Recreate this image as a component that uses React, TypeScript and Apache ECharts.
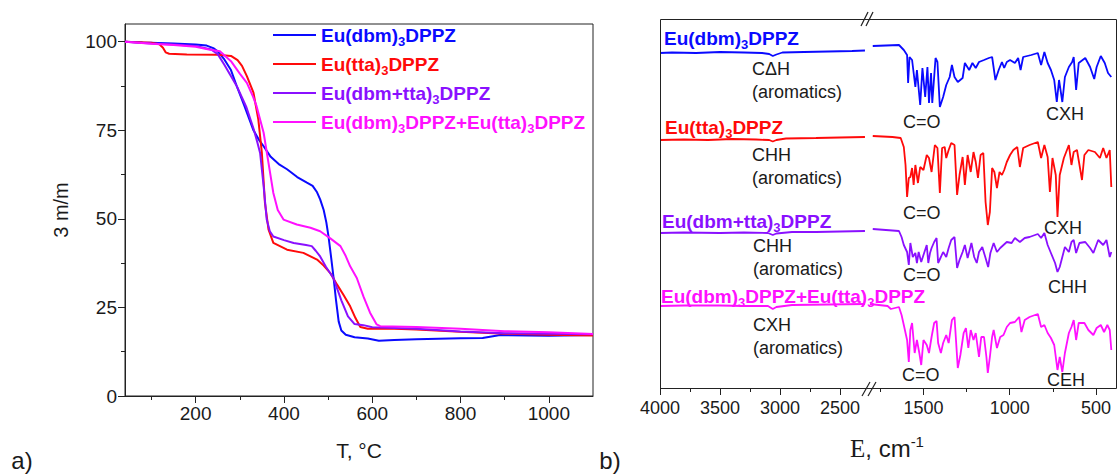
import React, { useEffect, useRef } from 'react';
import * as echarts from 'echarts';

const FONT = '"Liberation Sans", Arial, Helvetica, sans-serif';
const SERIF = '"Liberation Serif", "Times New Roman", serif';

const NAMES = ['Eu(dbm)3DPPZ', 'Eu(tta)3DPPZ', 'Eu(dbm+tta)3DPPZ', 'Eu(dbm)3DPPZ+Eu(tta)3DPPZ'];
const COLORS = ['#0a0aff', '#ff0a0a', '#8a10ff', '#ff10ff'];

// ---------- TGA (temperature °C, mass %) ----------
const tgaDbm = [[40,100],[80,99.8],[150,99.5],[200,99.2],[225,98.9],[240,98.2],[250,97.3],[265,95],[280,92],[293,87.5],[310,82],[331,75],[345,72],[354,70.5],[370,67.5],[390,65.3],[407,64],[430,61.8],[452,60.2],[465,59.3],[475,57.5],[482,55.5],[490,52.5],[496,49],[501,45],[507,39],[512,33.8],[518,27],[524,21],[530,18.5],[540,17.3],[560,16.6],[590,16.2],[615,15.6],[650,15.8],[700,16],[800,16.3],[850,16.4],[870,16.8],[890,17.2],[950,17.1],[1000,17],[1100,17.2]];
const tgaTta = [[40,100],[100,99.7],[118,99.3],[126,98.3],[132,97],[140,96.6],[180,96.4],[250,96.3],[280,96],[295,94.8],[305,93.2],[316,90.3],[331,85.6],[342,78],[350,68.6],[357,54.5],[365,47],[376,43.2],[407,41.3],[444,40.4],[475,38.5],[490,36.8],[505,34.7],[520,31.5],[535,28.5],[550,25.3],[562,22],[573,19.5],[590,19],[650,19],[700,18.8],[800,18.1],[900,17.6],[1000,17.3],[1100,17.1]];
const tgaMix = [[40,100],[100,99.5],[150,99.2],[200,98.8],[235,97.8],[250,96.5],[265,93.5],[293,87.5],[315,81.5],[331,75.5],[340,71.5],[346,68.6],[354,59.2],[361,49.8],[368,46.5],[376,45],[400,44],[422,43.2],[450,42.6],[463,42.3],[472,41],[482,39.4],[495,36.5],[512,33.3],[530,27],[545,22.5],[560,20.3],[580,20],[600,19.4],[700,19],[800,18.2],[900,17.7],[1000,17.6],[1100,17.4]];
const tgaBlend = [[40,100],[100,99.4],[150,99.1],[200,98.6],[230,97.8],[255,97.3],[280,94.5],[300,91],[316,88.4],[330,84.5],[338,81.8],[354,74.3],[365,65.8],[376,57.3],[386,52.5],[399,49.8],[429,48.4],[460,47.5],[482,46.5],[505,44.5],[528,42.3],[540,39.5],[550,36.6],[565,33.3],[580,28.1],[595,23.5],[610,20.2],[618,19.7],[700,19.5],[800,19],[900,18.3],[1000,18],[1100,17.5]];

const tgaTempTicks = [200, 400, 600, 800, 1000];
const tgaTempMinor = [100, 300, 500, 700, 900];
const tgaMassTicks = [0, 25, 50, 75, 100];
const tgaMassMinor = [12.5, 37.5, 62.5, 87.5];

// ---------- IR (wavenumber cm-1, offset transmittance a.u.) ----------
const irDbmHigh = [[4000,335],[3900,335.5],[3700,335],[3500,336],[3300,335.5],[3150,335],[3090,334],[3060,332],[3030,333.5],[2980,335.5],[2800,336],[2600,336.5],[2400,337],[2292,337.5]];
const irTtaHigh = [[4000,248],[3800,248.5],[3600,248],[3400,249],[3200,248.5],[3090,248],[3060,246.5],[3030,248],[2950,249.5],[2700,250],[2500,250.5],[2292,251]];
const irMixHigh = [[4000,155],[3800,155.5],[3500,155],[3300,155.5],[3100,155],[3060,153],[3030,154.5],[2900,156],[2700,156],[2500,156.5],[2292,157]];
const irBlendHigh = [[4000,82],[3800,82.5],[3500,82.5],[3300,82],[3100,82],[3060,79],[3030,81],[2900,83],[2600,83.5],[2292,84]];

const irDbmLow = [[1794,342],[1642,343],[1614,338],[1595,333],[1589,305],[1581,331],[1566,328],[1547,301],[1538,318],[1519,283],[1506,320],[1490,291],[1477,321],[1468,285],[1456,315],[1449,285],[1430,330],[1419,326],[1405,281],[1386,291],[1368,303],[1348,311],[1335,323],[1320,311],[1301,306],[1273,310],[1260,325],[1235,318],[1216,325],[1197,320],[1178,326],[1149,328],[1121,330],[1102,331],[1083,308],[1064,318],[1045,326],[1032,320],[1017,326],[998,328],[970,325],[951,330],[937,318],[922,331],[875,333],[837,335],[818,323],[799,336],[780,325],[761,318],[742,308],[727,286],[714,308],[695,286],[680,311],[657,321],[638,326],[629,331],[615,298],[600,325],[562,330],[534,321],[510,309],[496,321],[472,332],[449,325],[430,315],[411,311]];
const irTtaLow = [[1794,252],[1680,251],[1632,250],[1614,241],[1604,223],[1595,191],[1585,210],[1576,211],[1566,220],[1557,203],[1547,223],[1532,205],[1519,221],[1500,218],[1481,233],[1468,230],[1453,216],[1434,243],[1419,240],[1405,195],[1392,240],[1377,241],[1368,230],[1354,238],[1339,245],[1320,243],[1305,193],[1291,213],[1273,231],[1260,203],[1244,233],[1226,216],[1210,236],[1197,226],[1184,210],[1169,233],[1153,235],[1140,186],[1127,163],[1115,176],[1102,220],[1089,216],[1074,200],[1059,216],[1045,213],[1032,218],[1017,226],[998,233],[979,238],[956,241],[941,221],[922,240],[885,243],[837,246],[818,230],[799,243],[780,231],[767,196],[752,230],[733,213],[723,171],[710,213],[686,230],[657,243],[642,223],[629,236],[610,238],[581,208],[567,233],[544,238],[506,236],[477,230],[458,240],[439,230],[420,238],[411,201]];
const irMixLow = [[1794,159],[1642,157],[1627,151],[1614,143],[1595,136],[1585,123],[1576,145],[1562,131],[1547,135],[1538,125],[1528,136],[1513,126],[1500,133],[1481,143],[1472,125],[1462,135],[1453,140],[1438,146],[1424,150],[1415,125],[1399,131],[1386,136],[1368,131],[1354,140],[1339,148],[1320,151],[1305,120],[1291,128],[1273,136],[1260,143],[1244,130],[1222,145],[1206,131],[1191,125],[1178,136],[1159,141],[1140,130],[1125,121],[1112,135],[1093,145],[1074,136],[1055,140],[1036,143],[1017,146],[989,145],[970,150],[941,146],[913,150],[885,151],[837,154],[818,150],[799,155],[780,143],[761,135],[737,125],[723,116],[710,121],[695,131],[680,141],[657,136],[642,146],[629,148],[615,135],[596,145],[562,146],[534,140],[515,135],[487,148],[458,143],[439,148],[420,131],[411,136]];
const irBlendLow = [[1810,84],[1708,82],[1689,79],[1642,81],[1627,73],[1614,63],[1595,48],[1585,26],[1576,58],[1566,65],[1551,35],[1538,48],[1524,35],[1513,23],[1500,48],[1481,43],[1468,35],[1453,51],[1438,65],[1424,67],[1415,45],[1399,35],[1386,45],[1368,53],[1354,45],[1335,68],[1320,71],[1301,20],[1286,33],[1267,55],[1254,60],[1240,40],[1226,58],[1210,48],[1197,55],[1178,31],[1165,51],[1149,51],[1135,31],[1127,15],[1115,31],[1102,51],[1093,58],[1074,40],[1055,51],[1036,53],[1017,61],[998,65],[970,66],[945,71],[932,56],[913,68],[885,71],[837,74],[818,61],[799,63],[780,55],[761,50],[742,43],[723,18],[710,31],[695,16],[680,35],[657,55],[642,61],[629,68],[615,48],[600,65],[567,65],[544,58],[515,53],[496,60],[472,63],[453,56],[434,63],[420,58],[411,38]];

const irHighTicks = [4000, 3500, 3000, 2500];
const irHighMinor = [3750, 3250, 2750];
const irLowTicks = [1500, 1000, 500];
const irLowMinor = [1750, 1250, 750];

const BAND_LABELS = [
  { x: 752, y: 69, t: 'CΔH' }, { x: 752, y: 92, t: '(aromatics)' },
  { x: 903, y: 122, t: 'C=O' }, { x: 1046, y: 114, t: 'CXH' },
  { x: 752, y: 155, t: 'CHH' }, { x: 752, y: 178, t: '(aromatics)' },
  { x: 903, y: 213, t: 'C=O' }, { x: 1044, y: 228, t: 'CXH' },
  { x: 753, y: 246, t: 'CHH' }, { x: 753, y: 269, t: '(aromatics)' },
  { x: 903, y: 275, t: 'C=O' }, { x: 1048, y: 287, t: 'CHH' },
  { x: 753, y: 325, t: 'CXH' }, { x: 753, y: 348, t: '(aromatics)' },
  { x: 902, y: 375, t: 'C=O' }, { x: 1047, y: 380, t: 'CEH' },
];
const IR_NAME_POS = [ { x: 664, y: 38 }, { x: 665, y: 127 }, { x: 662, y: 221 }, { x: 661, y: 296 } ];

const sub = (s: string) => '{a|' + s.replace(/\)3/g, ')}{s|3}{a|') + '}';
const INK = '#1a1a1a';

function richFor() {
  return {
    a: { fontSize: 19, fontWeight: 'bold', fontFamily: FONT, lineHeight: 20 },
    s: { fontSize: 13, fontWeight: 'bold', fontFamily: FONT, lineHeight: 20, verticalAlign: 'top', padding: [10, 0, 0, 0] },
  };
}

export default function App() {
  const ref = useRef<HTMLDivElement>(null);
  useEffect(() => {
    document.body.style.margin = '0';
    const chart = echarts.init(ref.current!, null, { renderer: 'svg' });
    const tick = (vals: number[], len: number) => ({ show: true, length: len, inside: false, customValues: vals, lineStyle: { color: '#222', width: 1 } });
    const lbl = (vals: number[], margin: number, size: number) => ({ customValues: vals, fontSize: size, color: INK, fontFamily: FONT, margin, formatter: (v: number) => String(v) });
    const tgaData = [tgaDbm, tgaTta, tgaMix, tgaBlend];
    const irHigh = [irDbmHigh, irTtaHigh, irMixHigh, irBlendHigh];
    const irLow = [irDbmLow, irTtaLow, irMixLow, irBlendLow];
    const series: any[] = [];
    tgaData.forEach((d, i) => series.push({ name: NAMES[i], type: 'line', xAxisIndex: 0, yAxisIndex: 0, data: d, symbol: 'none', color: COLORS[i], lineStyle: { width: 2, color: COLORS[i] } }));
    irHigh.forEach((d, i) => series.push({ name: 'IR-high ' + NAMES[i], type: 'line', xAxisIndex: 2, yAxisIndex: 2, data: d, symbol: 'none', lineStyle: { width: 1.8, color: COLORS[i] } }));
    irLow.forEach((d, i) => series.push({ name: 'IR-low ' + NAMES[i], type: 'line', xAxisIndex: 4, yAxisIndex: 3, data: d, symbol: 'none', lineStyle: { width: 1.8, color: COLORS[i] } }));

    const graphics: any[] = [
      { type: 'rect', shape: { x: 660.5, y: 19.5, width: 456, height: 369 }, style: { fill: 'none', stroke: '#222', lineWidth: 1 }, z: 10 },
      { type: 'line', shape: { x1: 861, y1: 26, x2: 868, y2: 12 }, style: { stroke: '#222', lineWidth: 1.2 }, z: 11 },
      { type: 'line', shape: { x1: 866, y1: 26, x2: 873, y2: 12 }, style: { stroke: '#222', lineWidth: 1.2 }, z: 11 },
      { type: 'line', shape: { x1: 862, y1: 396, x2: 870, y2: 382 }, style: { stroke: '#222', lineWidth: 1.2 }, z: 11 },
      { type: 'line', shape: { x1: 868, y1: 396, x2: 876, y2: 382 }, style: { stroke: '#222', lineWidth: 1.2 }, z: 11 },
      { type: 'text', x: 22, y: 460, style: { text: 'a)', font: '24px ' + FONT, fill: INK, align: 'center', verticalAlign: 'middle' } },
      { type: 'text', x: 610, y: 460, style: { text: 'b)', font: '24px ' + FONT, fill: INK, align: 'center', verticalAlign: 'middle' } },
      { type: 'text', x: 887, y: 448, style: { text: '{e|E}{t|, cm}{p|-1}', align: 'center', verticalAlign: 'middle', fill: INK,
        rich: { e: { fontSize: 25, fontFamily: SERIF, lineHeight: 28 }, t: { fontSize: 24, fontFamily: FONT, lineHeight: 28 }, p: { fontSize: 15, fontFamily: FONT, lineHeight: 14, verticalAlign: 'top' } } } },
    ];
    IR_NAME_POS.forEach((p, i) => graphics.push({ type: 'text', x: p.x, y: p.y, z: 12, style: { text: sub(NAMES[i]), fill: COLORS[i], align: 'left', verticalAlign: 'middle', rich: richFor() } }));
    BAND_LABELS.forEach((b) => graphics.push({ type: 'text', x: b.x, y: b.y, z: 12, style: { text: b.t, font: '18px ' + FONT, fill: INK, align: 'left', verticalAlign: 'middle' } }));

    chart.setOption({
      animation: false,
      backgroundColor: '#fff',
      grid: [
        { left: 125, top: 24, width: 468, height: 372, show: true, borderColor: '#222', borderWidth: 1, backgroundColor: 'transparent' },
        { left: 660, top: 19, width: 210, height: 369 },
        { left: 870, top: 19, width: 247, height: 369 },
      ],
      legend: {
        left: 268, top: 20, orient: 'vertical', itemWidth: 43, itemHeight: 2, itemGap: 6, icon: 'rect',
        data: NAMES.map((n, i) => ({ name: n, textStyle: { color: COLORS[i] } })),
        formatter: (n: string) => sub(n),
        textStyle: { fontFamily: FONT, fontSize: 19, fontWeight: 'bold', lineHeight: 20, rich: richFor() },
      },
      xAxis: [
        { gridIndex: 0, type: 'value', min: 40, max: 1100, position: 'bottom', axisLine: { show: true, lineStyle: { color: '#222' } }, splitLine: { show: false }, axisTick: tick(tgaTempTicks, 7), axisLabel: lbl(tgaTempTicks, 8, 19),
          name: 'T, °C', nameLocation: 'middle', nameGap: 44, nameTextStyle: { fontSize: 21, fontFamily: FONT, color: INK } },
        { gridIndex: 0, type: 'value', min: 40, max: 1100, position: 'bottom', axisLine: { show: false }, splitLine: { show: false }, axisTick: tick(tgaTempMinor, 4), axisLabel: { show: false } },
        { gridIndex: 1, type: 'value', min: 2250, max: 4000, inverse: true, position: 'bottom', axisLine: { show: false }, splitLine: { show: false }, axisTick: tick(irHighTicks, 7), axisLabel: lbl(irHighTicks, 11, 18) },
        { gridIndex: 1, type: 'value', min: 2250, max: 4000, inverse: true, position: 'bottom', axisLine: { show: false }, splitLine: { show: false }, axisTick: tick(irHighMinor, 4), axisLabel: { show: false } },
        { gridIndex: 2, type: 'value', min: 405, max: 1810, inverse: true, position: 'bottom', axisLine: { show: false }, splitLine: { show: false }, axisTick: tick(irLowTicks, 7), axisLabel: lbl(irLowTicks, 11, 18) },
        { gridIndex: 2, type: 'value', min: 405, max: 1810, inverse: true, position: 'bottom', axisLine: { show: false }, splitLine: { show: false }, axisTick: tick(irLowMinor, 4), axisLabel: { show: false } },
      ],
      yAxis: [
        { gridIndex: 0, type: 'value', min: 0, max: 105, position: 'left', axisLine: { show: true, lineStyle: { color: '#222' } }, splitLine: { show: false }, axisTick: tick(tgaMassTicks, 7), axisLabel: lbl(tgaMassTicks, 8, 19),
          name: '3 m/m', nameLocation: 'middle', nameGap: 54, nameRotate: 90, nameTextStyle: { fontSize: 20, fontFamily: FONT, color: INK } },
        { gridIndex: 0, type: 'value', min: 0, max: 105, position: 'left', axisLine: { show: false }, splitLine: { show: false }, axisTick: tick(tgaMassMinor, 4), axisLabel: { show: false } },
        { gridIndex: 1, type: 'value', min: 0, max: 369, show: false },
        { gridIndex: 2, type: 'value', min: 0, max: 369, show: false },
      ],
      series,
      graphic: graphics,
    });
    return () => chart.dispose();
  }, []);
  return <div ref={ref} style={{ width: 1118, height: 475 }} />;
}
